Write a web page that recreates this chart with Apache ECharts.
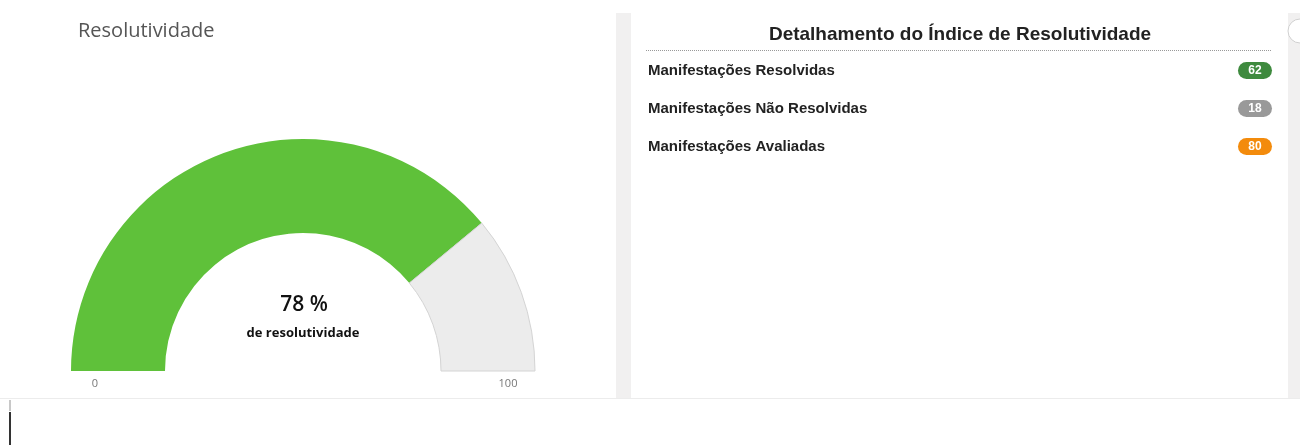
<!DOCTYPE html>
<html>
<head>
<meta charset="utf-8">
<script src="https://cdn.jsdelivr.net/npm/echarts@6/dist/echarts.min.js"></script>
<style>
html,body{margin:0;padding:0;background:#fff;}
#chart{width:1300px;height:445px;}
</style>
</head>
<body>
<div id="chart"></div>
<script>
// ---- data ----
var gaugeTitle = 'Resolutividade';
var gaugePercent = 78;
var gaugeMin = 0;
var gaugeMax = 100;
var gaugeCaption = 'de resolutividade';
var gaugeTickLabels = ['0', '100'];

var detailTitle = 'Detalhamento do Índice de Resolutividade';
var detailCategories = ['Manifestações Resolvidas', 'Manifestações Não Resolvidas', 'Manifestações Avaliadas'];
var detailValues = [62, 18, 80];
var detailColors = ['#3e8a3e', '#999999', '#f38b0c'];

// ---- layout ----
var cx = 303, cy = 371, rOut = 232, rIn = 138;

var graphics = [];
// panel separators
graphics.push({type:'rect', shape:{x:616,y:13,width:15,height:385}, style:{fill:'#f1f0f0'}, z:0});
graphics.push({type:'rect', shape:{x:1288,y:13,width:12,height:385}, style:{fill:'#f1f0f0'}, z:0});
graphics.push({type:'circle', shape:{cx:1300,cy:31,r:12}, style:{fill:'#fff',stroke:'#d0d0d0',lineWidth:1}, z:1});
graphics.push({type:'line', shape:{x1:0,y1:398.5,x2:1300,y2:398.5}, style:{stroke:'#ececec',lineWidth:1}, z:1});
graphics.push({type:'rect', shape:{x:9,y:400,width:2,height:11}, style:{fill:'#c8c8c8'}, z:1});
graphics.push({type:'rect', shape:{x:9,y:412,width:2,height:33}, style:{fill:'#333'}, z:1});

// gauge title
graphics.push({type:'text', x:78, y:31, style:{text:gaugeTitle, font:'400 20px "Open Sans", sans-serif', fill:'#555', verticalAlign:'middle'}, z:2});
// gauge min/max labels
graphics.push({type:'text', x:cx-208, y:384, style:{text:gaugeTickLabels[0], font:'400 11px "Open Sans", sans-serif', fill:'#777', align:'center', verticalAlign:'middle'}, z:2});
graphics.push({type:'text', x:cx+205, y:384, style:{text:gaugeTickLabels[1], font:'400 11px "Open Sans", sans-serif', fill:'#777', align:'center', verticalAlign:'middle'}, z:2});
// centre texts
graphics.push({type:'text', x:cx+1, y:305, style:{text:gaugePercent + ' %', font:'600 21px "Open Sans", sans-serif', fill:'#111', align:'center', verticalAlign:'middle'}, z:2});
graphics.push({type:'text', x:cx, y:333, style:{text:gaugeCaption, font:'700 13px "Open Sans", sans-serif', fill:'#111', align:'center', verticalAlign:'middle'}, z:2});

// detail panel
graphics.push({type:'text', x:960, y:35, style:{text:detailTitle, font:'700 19px "Liberation Sans", Arial, sans-serif', fill:'#222', align:'center', verticalAlign:'middle'}, z:2});
graphics.push({type:'line', shape:{x1:646,y1:50.5,x2:1272,y2:50.5}, style:{stroke:'#999',lineWidth:1,lineDash:[1,1]}, z:2});
for (var i = 0; i < detailCategories.length; i++) {
  var yy = 71 + i * 38;
  graphics.push({type:'text', x:648, y:yy, style:{text:detailCategories[i], font:'700 15px "Liberation Sans", Arial, sans-serif', fill:'#222', verticalAlign:'middle'}, z:2});
  graphics.push({type:'rect', shape:{x:1238,y:yy-9,width:34,height:17,r:8.5}, style:{fill:detailColors[i]}, z:2});
  graphics.push({type:'text', x:1255, y:yy, style:{text:String(detailValues[i]), font:'700 12px "Liberation Sans", Arial, sans-serif', fill:'#fff', align:'center', verticalAlign:'middle'}, z:3});
}

var chart = echarts.init(document.getElementById('chart'), null, {renderer:'canvas'});
chart.setOption({
  backgroundColor:'#fff',
  animation:false,
  graphic: graphics,
  series:[{
    type:'pie',
    silent:true,
    center:[cx, cy],
    radius:[rIn, rOut],
    startAngle:180,
    clockwise:true,
    label:{show:false},
    labelLine:{show:false},
    emphasis:{disabled:true},
    data:[
      {value:gaugePercent - gaugeMin, itemStyle:{color:'#5fc13a'}},
      {value:gaugeMax - gaugePercent, itemStyle:{color:'#ececec', borderColor:'#d4d4d4', borderWidth:1}},
      {value:gaugeMax - gaugeMin, itemStyle:{color:'rgba(0,0,0,0)'}}
    ]
  }]
});
</script>
</body>
</html>
